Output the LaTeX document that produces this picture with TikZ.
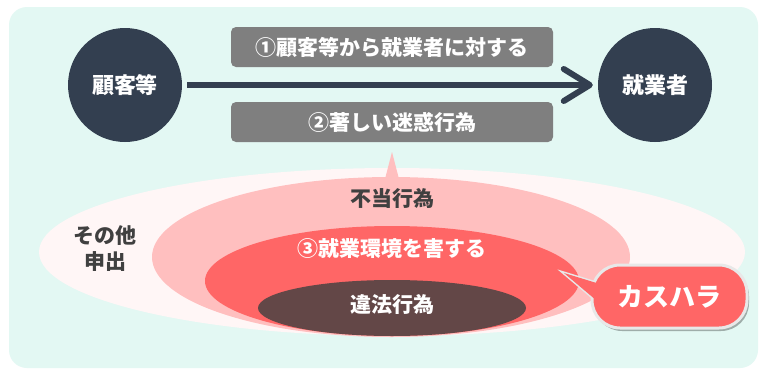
\documentclass[tikz,border=0pt]{standalone}
\usepackage{fontspec}
\newfontfamily\jp{Noto Sans CJK JP}
\usetikzlibrary{arrows.meta,shadows}
\definecolor{mint}{HTML}{E3F8F3}
\definecolor{navy}{HTML}{333F50}
\definecolor{boxgray}{HTML}{7F7F7F}
\definecolor{outerpink}{HTML}{FFF6F6}
\definecolor{lightpink}{HTML}{FFBFBF}
\definecolor{redfill}{HTML}{FF6666}
\definecolor{darkbrown}{HTML}{634747}
\definecolor{txtdark}{HTML}{404040}
\definecolor{callborder}{HTML}{E8E8E8}
\begin{document}
\begin{tikzpicture}[x=1pt,y=-1pt,
  party/.style={circle, fill=navy, minimum size=114pt, inner sep=0pt, text=white,
    font=\jp\bfseries\fontsize{22}{26}\selectfont},
  labelbox/.style={fill=boxgray, rounded corners=5pt, minimum width=322pt, minimum height=40pt,
    inner sep=0pt, text=white, font=\jp\bfseries\fontsize{21}{25}\selectfont},
  ringtext/.style={inner sep=0pt, align=center, font=\jp\bfseries\fontsize{21}{26}\selectfont},
  flow/.style={draw=navy, line width=6pt, -{Straight Barb[length=26pt, width=32pt, round]}},
  callout/.style={rectangle, rounded corners=28pt, minimum width=155pt, minimum height=63pt,
    fill=redfill, draw=callborder, line width=3pt, text=white, inner sep=0pt,
    font=\jp\bfseries\fontsize{26}{30}\selectfont,
    drop shadow={shadow xshift=2pt, shadow yshift=-3pt, opacity=0.3, fill=black}},
]
% background
\fill[white] (0,0) rectangle (764,370);
\fill[mint, rounded corners=18pt] (9,7) rectangle (758,368);
% nested areas
\fill[outerpink] (392,252) ellipse [x radius=353, y radius=84];
\fill[lightpink] (385,179) -- (392,152) -- (399,179) -- cycle;
\fill[lightpink] (391,257) ellipse [x radius=239, y radius=80];
\fill[redfill] (392,281) ellipse [x radius=187, y radius=55];
\fill[darkbrown] (392,308) ellipse [x radius=134, y radius=28];
% area labels
\node[ringtext, text=txtdark] (other) at (105,249) {その他\\申出};
\node[ringtext, text=txtdark] (unfair) at (392,199) {不当行為};
\node[ringtext, text=white] (env) at (392,249) {③就業環境を害する};
\node[ringtext, text=white] (illegal) at (392,305) {違法行為};
% parties
\node[party] (cust) at (125,85) {顧客等};
\node[party] (work) at (655,85) {就業者};
\node[labelbox] (b1) at (392,47) {①顧客等から就業者に対する};
\node[labelbox] (b2) at (392,122) {②著しい迷惑行為};
\draw[flow] ([xshift=5pt]cust.east) -- ([xshift=-5pt]work.west);
% callout
\coordinate (tip) at (564,273);
\fill[redfill, draw=callborder, line width=3pt] (tip) -- (603,285) -- (603,306) -- cycle;
\node[callout] (kasu) at (669.5,296.5) {カスハラ};
\fill[redfill] (tip) -- (603,285) -- (603,306) -- cycle;
\end{tikzpicture}
\end{document}
